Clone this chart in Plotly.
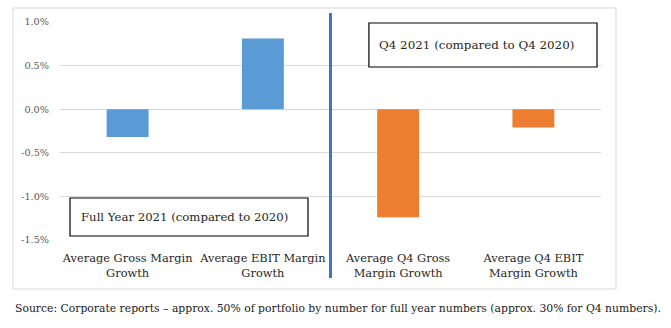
import plotly.graph_objects as go

# Margin growth figures (as fractions)
categories = [
    "Average Gross Margin<br>Growth",
    "Average EBIT Margin<br>Growth",
    "Average Q4 Gross<br>Margin Growth",
    "Average Q4 EBIT<br>Margin Growth",
]
values = [-0.0032, 0.0081, -0.0124, -0.0021]
bar_colors = ["#5B9BD5", "#5B9BD5", "#ED7D31", "#ED7D31"]
y_ticks = [-0.015, -0.010, -0.005, 0.0, 0.005, 0.010]
y_tick_labels = ["-1.5%", "-1.0%", "-0.5%", "0.0%", "0.5%", "1.0%"]

FONT = "DejaVu Serif"

fig = go.Figure(
    go.Bar(
        x=categories,
        y=values,
        marker=dict(color=bar_colors, line=dict(width=0)),
        width=0.31,
        showlegend=False,
    )
)

fig.update_layout(
    width=671,
    height=328,
    margin=dict(l=60, r=70, t=22, b=88),
    paper_bgcolor="white",
    plot_bgcolor="white",
    font=dict(family=FONT, size=12, color="#262626"),
    xaxis=dict(
        type="category",
        showgrid=False,
        showline=False,
        ticks="",
        ticklabelstandoff=10,
        tickfont=dict(family=FONT, size=11.4, color="#262626"),
    ),
    yaxis=dict(
        range=[-0.015, 0.010],
        tickvals=y_ticks,
        ticktext=y_tick_labels,
        showgrid=True,
        gridcolor="#D9D9D9",
        gridwidth=1,
        zeroline=True,
        zerolinecolor="#D9D9D9",
        zerolinewidth=1,
        showline=False,
        ticks="",
        ticklabelstandoff=10,
        tickfont=dict(family=FONT, size=9.7, color="#595959"),
    ),
    shapes=[
        # outer chart border
        dict(type="rect", xref="paper", yref="paper",
             x0=-0.0869, x1=1.0277, y0=-0.2248, y1=1.0642,
             line=dict(color="#D9D9D9", width=1), layer="below"),
        # divider between full-year and Q4 groups
        dict(type="line", xref="x", yref="paper",
             x0=1.5, x1=1.5, y0=-0.1743, y1=1.0413,
             line=dict(color="#4472C4", width=3)),
        # Q4 label box
        dict(type="rect", xref="paper", yref="paper",
             x0=0.571, x1=0.9926, y0=0.7936, y1=0.9954,
             line=dict(color="black", width=1.2), fillcolor="white"),
        # full year label box
        dict(type="rect", xref="paper", yref="paper",
             x0=0.0185, x1=0.4584, y0=0.0183, y1=0.1927,
             line=dict(color="black", width=1.2), fillcolor="white"),
    ],
    annotations=[
        dict(text="Q4 2021 (compared to Q4 2020)", xref="paper", yref="paper",
             x=0.586, y=0.8945, xanchor="left", yanchor="middle",
             showarrow=False, font=dict(family=FONT, size=11.9, color="#262626")),
        dict(text="Full Year 2021 (compared to 2020)", xref="paper", yref="paper",
             x=0.035, y=0.1055, xanchor="left", yanchor="middle",
             showarrow=False, font=dict(family=FONT, size=11.7, color="#262626")),
        dict(text="Source: Corporate reports \u2013 approx. 50% of portfolio by number for full year numbers (approx. 30% for Q4 numbers).",
             xref="paper", yref="paper", x=-0.0869, y=-0.313,
             xanchor="left", yanchor="middle", showarrow=False,
             font=dict(family=FONT, size=10.8, color="#1a1a1a")),
    ],
)

fig.write_html("out.html")
